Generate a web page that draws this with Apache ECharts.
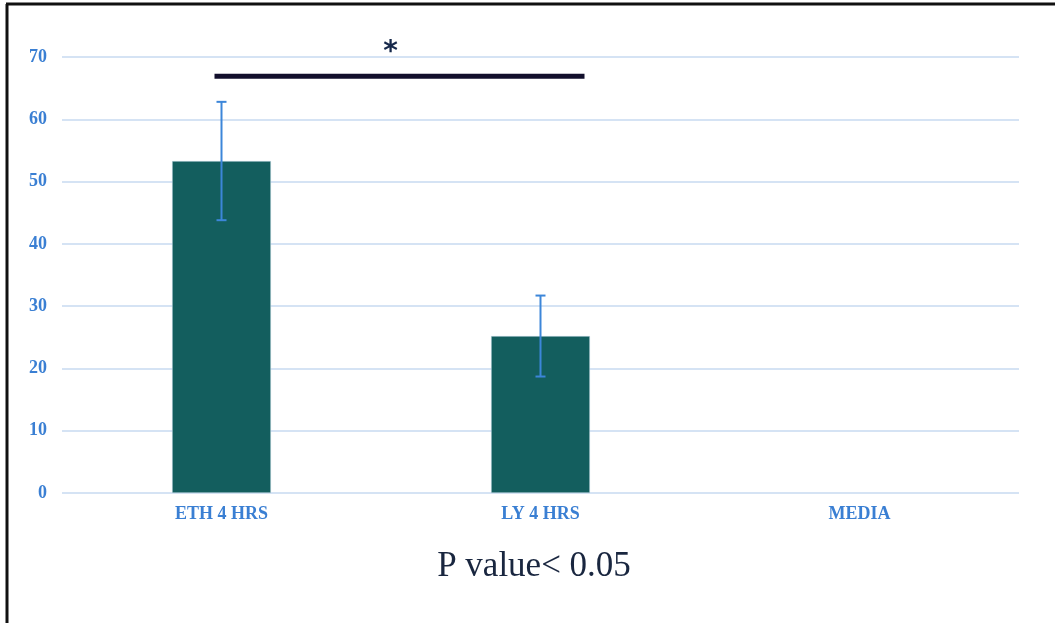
<!DOCTYPE html>
<html>
<head>
<meta charset="utf-8">
<script src="https://cdn.jsdelivr.net/npm/echarts@6/dist/echarts.min.js"></script>
<style>
  html, body { margin: 0; padding: 0; background: #fff; }
  #chart { width: 1055px; height: 623px; }
</style>
</head>
<body>
<div id="chart"></div>
<script>
// Group labels and measured means with their error (±) values
const categories = ['ETH 4 HRS', 'LY 4 HRS', 'MEDIA'];
const means = [53.3, 25.2, null];
const errors = [9.5, 6.5, null];
const yTicks = [0, 10, 20, 30, 40, 50, 60, 70];

// Significance bracket between the first two groups
const sigFrom = 0;
const sigTo = 1;
const sigLevel = 66.9;
const sigMark = '*';
const footnote = 'P value< 0.05';

const chart = echarts.init(document.getElementById('chart'));

const errorData = categories.map((c, i) =>
  means[i] == null ? null : [i, means[i] - errors[i], means[i] + errors[i]]
).filter(d => d);

const labelStyle = {
  color: '#3a7fd3',
  fontFamily: 'Liberation Serif',
  fontWeight: 'bold'
};

chart.setOption({
  animation: false,
  grid: { left: 62, right: 36, top: 57, bottom: 130 },
  xAxis: {
    type: 'category',
    data: categories,
    axisLine: { show: false },
    axisTick: { show: false },
    axisLabel: Object.assign({ margin: 12, fontSize: 18 }, labelStyle)
  },
  yAxis: {
    type: 'value',
    min: yTicks[0],
    max: yTicks[yTicks.length - 1],
    interval: 10,
    axisLine: { show: false },
    axisTick: { show: false },
    axisLabel: Object.assign({ margin: 15, fontSize: 18 }, labelStyle),
    splitLine: { lineStyle: { color: '#d5e3f4', width: 2 } }
  },
  series: [
    {
      type: 'bar',
      data: means,
      barWidth: '31%',
      itemStyle: { color: '#135e5e', borderColor: '#cfe0ee', borderWidth: 0.5 },
      z: 2
    },
    {
      type: 'custom',
      data: errorData,
      z: 3,
      renderItem: function (params, api) {
        const x = api.value(0);
        const lo = api.coord([x, api.value(1)]);
        const hi = api.coord([x, api.value(2)]);
        const cap = 5;
        const style = { stroke: '#3c86d9', lineWidth: 2 };
        return {
          type: 'group',
          children: [
            { type: 'line', shape: { x1: hi[0], y1: hi[1], x2: lo[0], y2: lo[1] }, style },
            { type: 'line', shape: { x1: hi[0] - cap, y1: hi[1], x2: hi[0] + cap, y2: hi[1] }, style },
            { type: 'line', shape: { x1: lo[0] - cap, y1: lo[1], x2: lo[0] + cap, y2: lo[1] }, style }
          ]
        };
      }
    },
    {
      type: 'custom',
      data: [[sigFrom, sigTo, sigLevel]],
      clip: false,
      z: 4,
      renderItem: function (params, api) {
        const a = api.coord([api.value(0), api.value(2)]);
        const b = api.coord([api.value(1), api.value(2)]);
        const x1 = a[0] - 7;
        const x2 = b[0] + 44;
        return {
          type: 'group',
          children: [
            {
              type: 'line',
              shape: { x1: x1, y1: a[1], x2: x2, y2: a[1] },
              style: { stroke: '#120f2c', lineWidth: 5 }
            },
            {
              type: 'text',
              style: {
                text: sigMark,
                x: (x1 + x2) / 2 - 9,
                y: a[1] - 24,
                align: 'center',
                verticalAlign: 'middle',
                fill: '#16284a',
                font: 'bold 28px "DejaVu Sans"'
              }
            }
          ]
        };
      }
    }
  ],
  graphic: [
    { type: 'line', shape: { x1: 7, y1: 4, x2: 7, y2: 623 }, style: { stroke: '#111', lineWidth: 3 } },
    { type: 'line', shape: { x1: 6, y1: 4, x2: 1055, y2: 4 }, style: { stroke: '#111', lineWidth: 3 } },
    {
      type: 'text',
      x: 534,
      y: 567,
      style: {
        text: footnote,
        fill: '#19263f',
        font: '35px "Liberation Serif"',
        align: 'center',
        verticalAlign: 'middle'
      }
    }
  ]
});
</script>
</body>
</html>
